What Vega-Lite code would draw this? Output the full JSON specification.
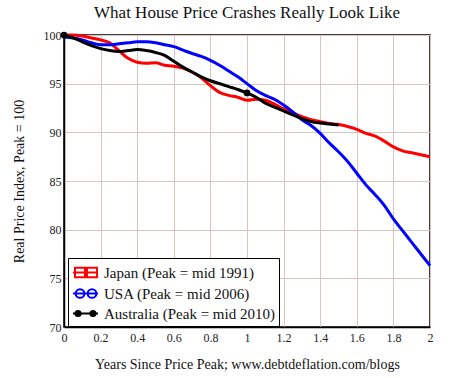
{
  "$schema": "https://vega.github.io/schema/vega-lite/v6.json",
  "width": 366,
  "height": 292,
  "autosize": {"type": "none"},
  "padding": {"left": 64, "top": 35, "right": 40, "bottom": 51},
  "background": "white",
  "title": {
    "text": "What House Price Crashes Really Look Like",
    "font": "Liberation Serif",
    "fontSize": 17,
    "fontWeight": "normal",
    "color": "#111",
    "anchor": "middle",
    "offset": 7
  },
  "config": {
    "view": {"stroke": "#000", "strokeWidth": 1.5},
    "axis": {
      "labelFont": "Liberation Serif",
      "titleFont": "Liberation Serif",
      "labelFontSize": 12,
      "titleFontSize": 14,
      "titleFontWeight": "normal",
      "labelColor": "#222",
      "titleColor": "#111",
      "gridColor": "#d6c6bf",
      "gridOpacity": 1,
      "gridWidth": 1,
      "domainColor": "#000",
      "domainWidth": 1.5,
      "ticks": false,
      "labelOverlap": false
    }
  },
  "datasets": {
    "curves": [
      {"series": "Japan (Peak = mid 1991)", "x": 0, "y": 100},
      {"series": "Japan (Peak = mid 1991)", "x": 0.05, "y": 100},
      {"series": "Japan (Peak = mid 1991)", "x": 0.1, "y": 99.9},
      {"series": "Japan (Peak = mid 1991)", "x": 0.15, "y": 99.7},
      {"series": "Japan (Peak = mid 1991)", "x": 0.2, "y": 99.5},
      {"series": "Japan (Peak = mid 1991)", "x": 0.25, "y": 99.2},
      {"series": "Japan (Peak = mid 1991)", "x": 0.3, "y": 98.4},
      {"series": "Japan (Peak = mid 1991)", "x": 0.35, "y": 97.6},
      {"series": "Japan (Peak = mid 1991)", "x": 0.4, "y": 97.2},
      {"series": "Japan (Peak = mid 1991)", "x": 0.45, "y": 97.1},
      {"series": "Japan (Peak = mid 1991)", "x": 0.5, "y": 97.15},
      {"series": "Japan (Peak = mid 1991)", "x": 0.55, "y": 96.9},
      {"series": "Japan (Peak = mid 1991)", "x": 0.6, "y": 96.8},
      {"series": "Japan (Peak = mid 1991)", "x": 0.65, "y": 96.6},
      {"series": "Japan (Peak = mid 1991)", "x": 0.7, "y": 96.2},
      {"series": "Japan (Peak = mid 1991)", "x": 0.75, "y": 95.6},
      {"series": "Japan (Peak = mid 1991)", "x": 0.8, "y": 94.8},
      {"series": "Japan (Peak = mid 1991)", "x": 0.85, "y": 94.1},
      {"series": "Japan (Peak = mid 1991)", "x": 0.9, "y": 93.8},
      {"series": "Japan (Peak = mid 1991)", "x": 0.95, "y": 93.6},
      {"series": "Japan (Peak = mid 1991)", "x": 1.0, "y": 93.3},
      {"series": "Japan (Peak = mid 1991)", "x": 1.05, "y": 93.4},
      {"series": "Japan (Peak = mid 1991)", "x": 1.1, "y": 93.3},
      {"series": "Japan (Peak = mid 1991)", "x": 1.15, "y": 92.9},
      {"series": "Japan (Peak = mid 1991)", "x": 1.2, "y": 92.4},
      {"series": "Japan (Peak = mid 1991)", "x": 1.25, "y": 92.0},
      {"series": "Japan (Peak = mid 1991)", "x": 1.3, "y": 91.6},
      {"series": "Japan (Peak = mid 1991)", "x": 1.35, "y": 91.3},
      {"series": "Japan (Peak = mid 1991)", "x": 1.4, "y": 91.1},
      {"series": "Japan (Peak = mid 1991)", "x": 1.45, "y": 90.9},
      {"series": "Japan (Peak = mid 1991)", "x": 1.5, "y": 90.8},
      {"series": "Japan (Peak = mid 1991)", "x": 1.55, "y": 90.6},
      {"series": "Japan (Peak = mid 1991)", "x": 1.6, "y": 90.3},
      {"series": "Japan (Peak = mid 1991)", "x": 1.65, "y": 89.9},
      {"series": "Japan (Peak = mid 1991)", "x": 1.7, "y": 89.6},
      {"series": "Japan (Peak = mid 1991)", "x": 1.75, "y": 89.1},
      {"series": "Japan (Peak = mid 1991)", "x": 1.8, "y": 88.5},
      {"series": "Japan (Peak = mid 1991)", "x": 1.85, "y": 88.1},
      {"series": "Japan (Peak = mid 1991)", "x": 1.9, "y": 87.9},
      {"series": "Japan (Peak = mid 1991)", "x": 1.95, "y": 87.7},
      {"series": "Japan (Peak = mid 1991)", "x": 2.0, "y": 87.5},
      {"series": "USA (Peak = mid 2006)", "x": 0, "y": 99.8},
      {"series": "USA (Peak = mid 2006)", "x": 0.05, "y": 99.7},
      {"series": "USA (Peak = mid 2006)", "x": 0.1, "y": 99.5},
      {"series": "USA (Peak = mid 2006)", "x": 0.15, "y": 99.2},
      {"series": "USA (Peak = mid 2006)", "x": 0.2, "y": 99.0},
      {"series": "USA (Peak = mid 2006)", "x": 0.25, "y": 99.0},
      {"series": "USA (Peak = mid 2006)", "x": 0.3, "y": 99.1},
      {"series": "USA (Peak = mid 2006)", "x": 0.35, "y": 99.2},
      {"series": "USA (Peak = mid 2006)", "x": 0.4, "y": 99.3},
      {"series": "USA (Peak = mid 2006)", "x": 0.45, "y": 99.3},
      {"series": "USA (Peak = mid 2006)", "x": 0.5, "y": 99.2},
      {"series": "USA (Peak = mid 2006)", "x": 0.55, "y": 99.0},
      {"series": "USA (Peak = mid 2006)", "x": 0.6, "y": 98.8},
      {"series": "USA (Peak = mid 2006)", "x": 0.65, "y": 98.45},
      {"series": "USA (Peak = mid 2006)", "x": 0.7, "y": 98.1},
      {"series": "USA (Peak = mid 2006)", "x": 0.75, "y": 97.8},
      {"series": "USA (Peak = mid 2006)", "x": 0.8, "y": 97.4},
      {"series": "USA (Peak = mid 2006)", "x": 0.85, "y": 96.9},
      {"series": "USA (Peak = mid 2006)", "x": 0.9, "y": 96.3},
      {"series": "USA (Peak = mid 2006)", "x": 0.95, "y": 95.7},
      {"series": "USA (Peak = mid 2006)", "x": 1.0, "y": 95.0},
      {"series": "USA (Peak = mid 2006)", "x": 1.05, "y": 94.3},
      {"series": "USA (Peak = mid 2006)", "x": 1.1, "y": 93.8},
      {"series": "USA (Peak = mid 2006)", "x": 1.15, "y": 93.4},
      {"series": "USA (Peak = mid 2006)", "x": 1.2, "y": 92.8},
      {"series": "USA (Peak = mid 2006)", "x": 1.25, "y": 92.1},
      {"series": "USA (Peak = mid 2006)", "x": 1.3, "y": 91.3},
      {"series": "USA (Peak = mid 2006)", "x": 1.35, "y": 90.7},
      {"series": "USA (Peak = mid 2006)", "x": 1.4, "y": 89.9},
      {"series": "USA (Peak = mid 2006)", "x": 1.45, "y": 88.9},
      {"series": "USA (Peak = mid 2006)", "x": 1.5, "y": 88.0},
      {"series": "USA (Peak = mid 2006)", "x": 1.55, "y": 87.0},
      {"series": "USA (Peak = mid 2006)", "x": 1.6, "y": 85.8},
      {"series": "USA (Peak = mid 2006)", "x": 1.65, "y": 84.6},
      {"series": "USA (Peak = mid 2006)", "x": 1.7, "y": 83.6},
      {"series": "USA (Peak = mid 2006)", "x": 1.75, "y": 82.5},
      {"series": "USA (Peak = mid 2006)", "x": 1.8, "y": 81.1},
      {"series": "USA (Peak = mid 2006)", "x": 1.85, "y": 79.9},
      {"series": "USA (Peak = mid 2006)", "x": 1.9, "y": 78.7},
      {"series": "USA (Peak = mid 2006)", "x": 1.95, "y": 77.5},
      {"series": "USA (Peak = mid 2006)", "x": 2.0, "y": 76.3},
      {"series": "Australia (Peak = mid 2010)", "x": 0, "y": 100},
      {"series": "Australia (Peak = mid 2010)", "x": 0.05, "y": 99.7},
      {"series": "Australia (Peak = mid 2010)", "x": 0.1, "y": 99.3},
      {"series": "Australia (Peak = mid 2010)", "x": 0.15, "y": 98.9},
      {"series": "Australia (Peak = mid 2010)", "x": 0.2, "y": 98.6},
      {"series": "Australia (Peak = mid 2010)", "x": 0.25, "y": 98.4},
      {"series": "Australia (Peak = mid 2010)", "x": 0.3, "y": 98.3},
      {"series": "Australia (Peak = mid 2010)", "x": 0.35, "y": 98.4},
      {"series": "Australia (Peak = mid 2010)", "x": 0.4, "y": 98.5},
      {"series": "Australia (Peak = mid 2010)", "x": 0.45, "y": 98.4},
      {"series": "Australia (Peak = mid 2010)", "x": 0.5, "y": 98.2},
      {"series": "Australia (Peak = mid 2010)", "x": 0.55, "y": 97.9},
      {"series": "Australia (Peak = mid 2010)", "x": 0.6, "y": 97.3},
      {"series": "Australia (Peak = mid 2010)", "x": 0.65, "y": 96.7},
      {"series": "Australia (Peak = mid 2010)", "x": 0.7, "y": 96.2},
      {"series": "Australia (Peak = mid 2010)", "x": 0.75, "y": 95.7},
      {"series": "Australia (Peak = mid 2010)", "x": 0.8, "y": 95.3},
      {"series": "Australia (Peak = mid 2010)", "x": 0.85, "y": 95.0},
      {"series": "Australia (Peak = mid 2010)", "x": 0.9, "y": 94.7},
      {"series": "Australia (Peak = mid 2010)", "x": 0.95, "y": 94.4},
      {"series": "Australia (Peak = mid 2010)", "x": 1.0, "y": 94.05},
      {"series": "Australia (Peak = mid 2010)", "x": 1.05, "y": 93.6},
      {"series": "Australia (Peak = mid 2010)", "x": 1.1, "y": 93.0},
      {"series": "Australia (Peak = mid 2010)", "x": 1.15, "y": 92.6},
      {"series": "Australia (Peak = mid 2010)", "x": 1.2, "y": 92.2},
      {"series": "Australia (Peak = mid 2010)", "x": 1.25, "y": 91.8},
      {"series": "Australia (Peak = mid 2010)", "x": 1.3, "y": 91.4},
      {"series": "Australia (Peak = mid 2010)", "x": 1.35, "y": 91.1},
      {"series": "Australia (Peak = mid 2010)", "x": 1.4, "y": 90.95},
      {"series": "Australia (Peak = mid 2010)", "x": 1.45, "y": 90.85},
      {"series": "Australia (Peak = mid 2010)", "x": 1.5, "y": 90.75}
    ],
    "markers": [
      {"series": "Australia (Peak = mid 2010)", "x": 0, "y": 100},
      {"series": "Australia (Peak = mid 2010)", "x": 1.0, "y": 94.05}
    ]
  },
  "encoding": {
    "x": {
      "field": "x", "type": "quantitative",
      "scale": {"domain": [0, 2], "nice": false},
      "axis": {
        "values": [0, 0.2, 0.4, 0.6, 0.8, 1, 1.2, 1.4, 1.6, 1.8, 2],
        "format": ".1~f",
        "labelOverlap": false,
        "labelPadding": 5,
        "titlePadding": 14,
        "labelFlush": false,
        "title": "Years Since Price Peak; www.debtdeflation.com/blogs"
      }
    },
    "y": {
      "field": "y", "type": "quantitative",
      "scale": {"domain": [70, 100], "nice": false, "zero": false},
      "axis": {
        "values": [70, 75, 80, 85, 90, 95, 100],
        "labelOverlap": false,
        "labelPadding": 3,
        "titlePadding": 17,
        "labelFlush": false,
        "title": "Real Price Index, Peak = 100"
      }
    }
  },
  "layer": [
    {
      "data": {"name": "curves"},
      "mark": {"type": "line", "strokeWidth": 3, "interpolate": "monotone"},
      "encoding": {
        "color": {
          "field": "series", "type": "nominal",
          "scale": {
            "domain": ["Japan (Peak = mid 1991)", "USA (Peak = mid 2006)", "Australia (Peak = mid 2010)"],
            "range": ["#ff0000", "#0000ff", "#000000"]
          },
          "legend": {
            "title": null,
            "orient": "none",
            "legendX": 4,
            "legendY": 223,
            "padding": 4,
            "fillColor": "white",
            "strokeColor": "#000",
            "labelFont": "Liberation Serif",
            "labelFontSize": 15,
            "labelColor": "#111",
            "labelLimit": 300,
            "labelOffset": 11,
            "rowPadding": 1,
            "symbolSize": 361,
            "symbolStrokeWidth": 2,
            "symbolOpacity": 1,
            "encode": {
              "symbols": {
                "update": {
                  "shape": {"signal": "indexof(datum.value, 'Japan') === 0 ? 'M-1,0L1.63,0M-0.79,-0.5H0.26V0.5H-0.79ZM0.47,-0.5H1.53V0.5H0.47Z' : indexof(datum.value, 'USA') === 0 ? 'M-1,0L1.63,0M0.2,0A0.46,0.46 0 1 1 -0.72,0A0.46,0.46 0 1 1 0.2,0M1.46,0A0.46,0.46 0 1 1 0.54,0A0.46,0.46 0 1 1 1.46,0' : 'M-1,0L1.63,0M-0.2,0A0.27,0.27 0 1 1 -0.74,0A0.27,0.27 0 1 1 -0.2,0M1.37,0A0.27,0.27 0 1 1 0.83,0A0.27,0.27 0 1 1 1.37,0'"},
                  "fill": {"signal": "indexof(datum.value, 'Australia') === 0 ? '#000' : 'transparent'"}
                }
              }
            }
          }
        }
      }
    },
    {
      "data": {"name": "markers"},
      "mark": {"type": "point", "filled": true, "size": 45, "opacity": 1, "color": "#000"}
    }
  ]
}
